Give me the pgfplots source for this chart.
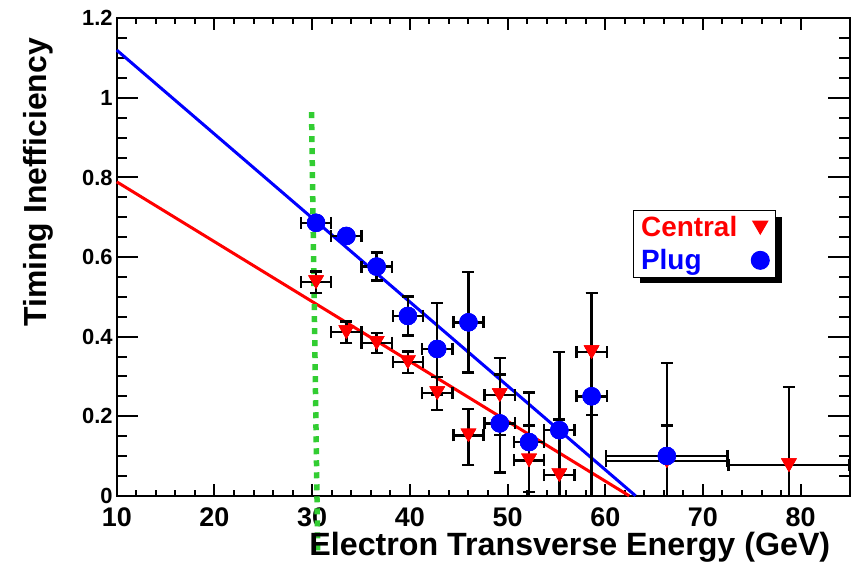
\documentclass[border=0pt]{standalone}
\usepackage{fontspec}
\setmainfont{Liberation Sans}
\usepackage{pgfplots}
\usepackage{pgfplotstable}
\pgfplotsset{compat=1.18}
\usetikzlibrary{shadows}
\definecolor{cutgreen}{RGB}{50,205,50}

% x, y, half bin width, upper and lower error (lower errors stop at zero)
\pgfplotstableread{
x    y     ex    eyp   eym
30.4 0.537 1.55  0.027 0.027
33.5 0.411 1.55  0.027 0.027
36.6 0.384 1.55  0.025 0.025
39.8 0.336 1.55  0.027 0.027
42.8 0.258 1.55  0.040 0.043
46.0 0.152 1.55  0.066 0.075
49.2 0.253 1.55  0.093 0.100
52.2 0.089 1.55  0.088 0.089
55.3 0.052 1.55  0.140 0.052
58.6 0.361 1.55  0.148 0.158
66.3 0.087 6.2   0.090 0.087
78.8 0.077 6.2   0.196 0.077
}\central

\pgfplotstableread{
x    y     ex    eyp   eym
30.4 0.686 1.55  0.012 0.012
33.5 0.653 1.55  0.012 0.012
36.6 0.576 1.55  0.035 0.035
39.8 0.452 1.55  0.049 0.049
42.8 0.369 1.55  0.115 0.115
46.0 0.436 1.55  0.126 0.126
49.2 0.182 1.55  0.123 0.123
52.2 0.135 1.55  0.125 0.125
55.3 0.165 1.55  0.196 0.165
58.6 0.250 1.55  0.260 0.250
66.3 0.100 6.2   0.233 0.100
}\plug

\pgfplotsset{
  errs/.style={forget plot,
    error bars/.cd, x dir=both, x explicit, y dir=both, y explicit,
    error mark=-,
    error bar style={black, line width=2.4bp},
    error mark options={black, line width=2.4bp, mark size=6bp, rotate=90}},
  downtri/.style={only marks, mark=triangle*, mark size=8.7bp, color=red,
    mark options={yshift=2.2bp, rotate=180, fill=red, draw=red}},
  bluedot/.style={only marks, mark=*, mark size=9bp, color=blue,
    mark options={fill=blue, draw=blue}},
}

\begin{document}
\begin{tikzpicture}
\begin{axis}[
  name=ax, at={(0,0)}, anchor=south west,
  width=732.3bp, height=477.2bp, scale only axis,
  xmin=10, xmax=85, ymin=0, ymax=1.2,
  clip=false,
  axis line style={line width=2bp},
  xtick={10,20,30,40,50,60,70,80}, minor x tick num=4,
  ytick={0,0.2,0.4,0.6,0.8,1,1.2}, minor y tick num=3,
  tick align=inside, xtick pos=both, ytick pos=both,
  xticklabel pos=lower, yticklabel pos=left,
  major tick length=12bp, minor tick length=6bp,
  ytick style={/pgfplots/major tick length=21bp, /pgfplots/minor tick length=10bp},
  every tick/.style={black, line width=2bp},
  /pgf/number format/assume math mode=true,
  xticklabel style={font=\fontsize{27}{27}\selectfont\bfseries, inner sep=0pt, yshift=-12bp},
  yticklabel style={font=\fontsize{22}{22}\selectfont\bfseries, inner sep=0pt, xshift=-4bp},
  xlabel={Electron Transverse Energy (GeV)},
  xlabel style={font=\fontsize{32.3}{34}\selectfont\bfseries, inner sep=0pt,
    at={(axis description cs:0.974,-0.1247)}, anchor=base east},
  ylabel={Timing Inefficiency},
  ylabel style={font=\fontsize{32}{34}\selectfont\bfseries, inner sep=0pt,
    at={(axis description cs:-0.087,0.9587)}, anchor=south east},
  legend style={at={(rel axis cs:0.704,0.598)}, anchor=north west,
    draw=black, line width=1bp, fill=white,
    drop shadow={shadow xshift=7bp, shadow yshift=-6bp, fill=black, opacity=1},
    font=\fontsize{28}{30}\selectfont\bfseries,
    inner xsep=6bp, inner ysep=4bp, row sep=7bp,
    /tikz/every odd column/.append style={column sep=12bp}},
  legend plot pos=right, legend cell align=left,
]
% fitted straight lines
\addplot[red, line width=3bp, forget plot] coordinates {(10,0.789) (62.45,0)};
\addplot[blue, line width=3bp, forget plot] coordinates {(10,1.12) (63.1,0)};
% 30 GeV threshold
\addplot[cutgreen, line width=5.5bp, dash pattern=on 6bp off 6bp, forget plot]
  coordinates {(30.57,-0.137) (29.93,0.975)};
% points with error bars
\addplot[downtri, errs] table[x=x, y=y, x error=ex, y error plus=eyp, y error minus=eym] {\central};
\addplot[bluedot, errs] table[x=x, y=y, x error=ex, y error plus=eyp, y error minus=eym] {\plug};
% markers again, above every error bar
\addplot[downtri, forget plot] table[x=x, y=y] {\central};
\addplot[bluedot, forget plot] table[x=x, y=y] {\plug};
% legend
\addlegendimage{downtri}
\addlegendentry{\textcolor{red}{Central}}
\addlegendimage{bluedot}
\addlegendentry{\textcolor{blue}{Plug}}
\end{axis}
\pgfresetboundingbox
\path[use as bounding box] (-116.7bp,-67.5bp) rectangle (733.8bp,495.5bp);
\end{tikzpicture}
\end{document}
